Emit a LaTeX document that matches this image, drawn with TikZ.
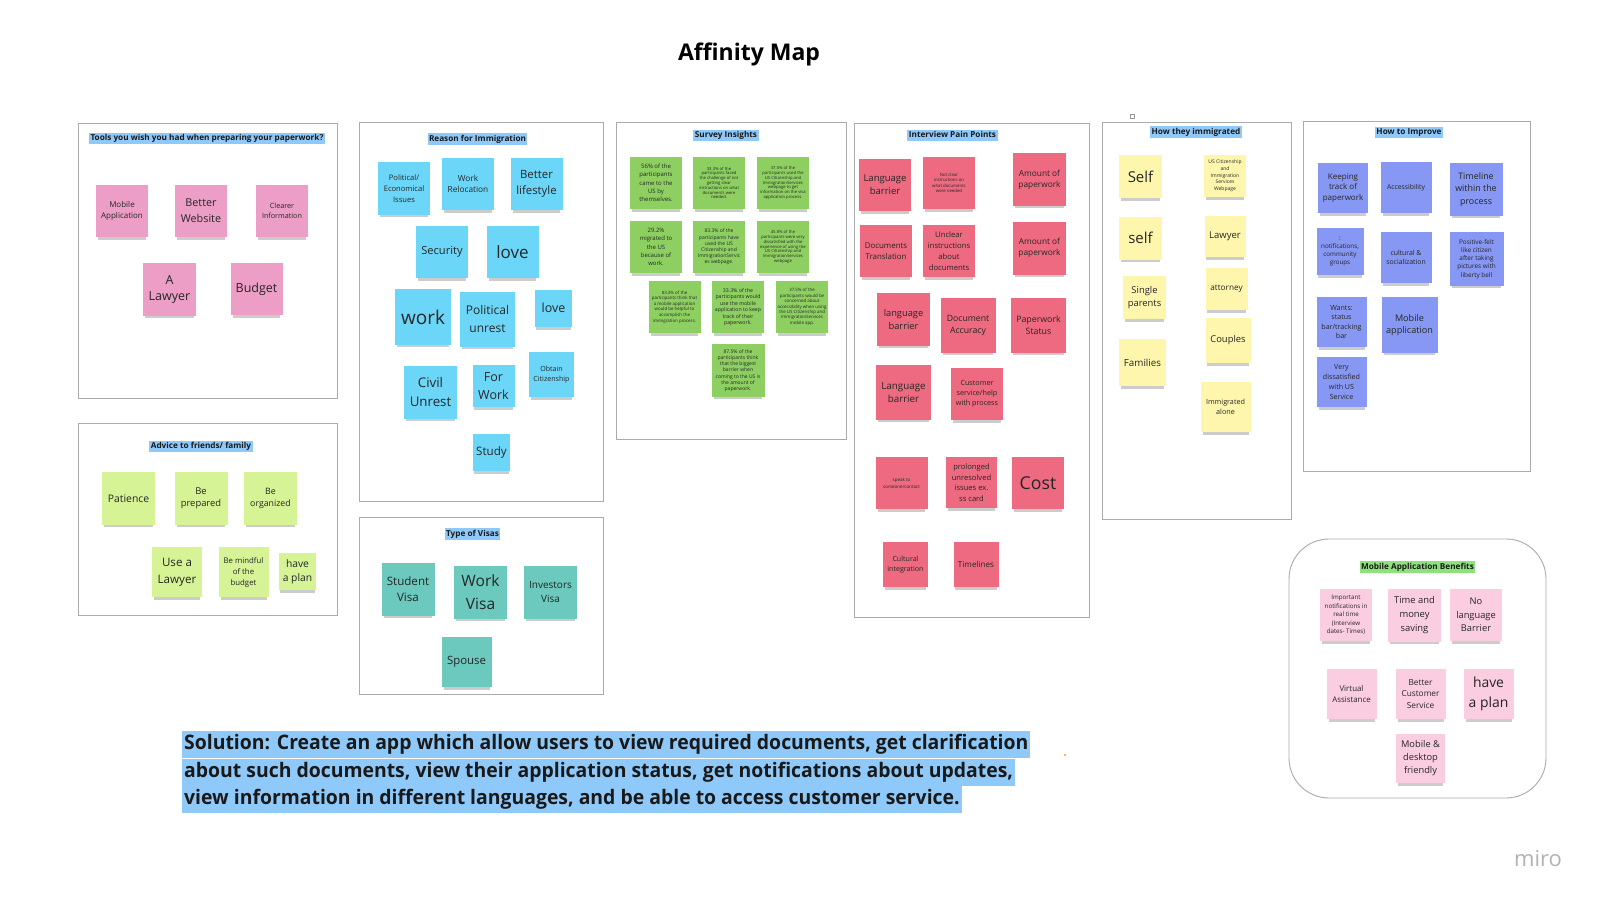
\documentclass[tikz,border=0pt]{standalone}
\usepackage{fontspec}
\setmainfont{Open Sans}
\newfontfamily\solfont[FakeStretch=0.97]{Open Sans}
\usepackage{tikz}
\usetikzlibrary{shadows, positioning}

\definecolor{framegray}{HTML}{ABABAB}
\definecolor{tagblue}{HTML}{8FC9FA}
\definecolor{taggreen}{HTML}{8EE27E}
\definecolor{notepink}{HTML}{EC9EC6}
\definecolor{noteblue}{HTML}{6CD6F8}
\definecolor{notegreen}{HTML}{8DD061}
\definecolor{notered}{HTML}{EE6A80}
\definecolor{noteyellow}{HTML}{FFF6AE}
\definecolor{noteviolet}{HTML}{8797F4}
\definecolor{notelime}{HTML}{D6F395}
\definecolor{noteteal}{HTML}{6CC9BE}
\definecolor{noterose}{HTML}{FBCDE0}

\newcommand{\notesize}[2]{\fontsize{#1}{#2}\selectfont}

\tikzstyle{board} = [draw=framegray, line width=0.9pt]
\tikzstyle{tag} = [fill=tagblue, font=\bfseries\notesize{8.2}{10}, text height=6.3pt, text depth=2pt, inner xsep=1.5pt, inner ysep=1.4pt, text=black!90]
\tikzstyle{sticky} = [rectangle, align=center, inner sep=0.5pt, text=black!85, drop shadow={shadow xshift=0pt, shadow yshift=-5pt, shadow scale=0.92, opacity=0.2, fill=black}]
\tikzstyle{pinknote} = [sticky, fill=notepink]
\tikzstyle{bluenote} = [sticky, fill=noteblue]
\tikzstyle{greennote} = [sticky, fill=notegreen]
\tikzstyle{rednote} = [sticky, fill=notered]
\tikzstyle{yellownote} = [sticky, fill=noteyellow]
\tikzstyle{violetnote} = [sticky, fill=noteviolet]
\tikzstyle{limenote} = [sticky, fill=notelime]
\tikzstyle{tealnote} = [sticky, fill=noteteal]
\tikzstyle{rosenote} = [sticky, fill=noterose]
\tikzstyle{solline} = [fill=tagblue, font=\solfont\bfseries\notesize{20}{24}, text=black!90, text height=15.5pt, text depth=5pt, inner xsep=2pt, inner ysep=3.25pt]

\begin{document}
\begin{tikzpicture}[x=1pt, y=-1pt]
\useasboundingbox (0,0) rectangle (1600,904);
\fill[white] (0,0) rectangle (1600,904);

\node (title) [font=\bfseries\notesize{23}{28}] at (749,54) {Affinity Map};

% boards
\draw[board] (78,123) rectangle (337,398);
\draw[board] (78,423) rectangle (337,615);
\draw[board] (359,122) rectangle (603,501);
\draw[board] (359,517) rectangle (603,694);
\draw[board] (616,122) rectangle (846,439);
\draw[board] (854,123) rectangle (1089,617);
\draw[board] (1102,122) rectangle (1291,519);
\draw[board] (1303,121) rectangle (1530,471);
\draw[board, rounded corners=40pt] (1289,539) rectangle (1546,798);
\draw[draw=black!40, line width=0.5pt] (1130,114) rectangle (1134,118);

% tools
\node (toolsTag) [tag] at (207,138.5) {Tools you wish you had when preparing your paperwork?};
\node (tMobile) [pinknote, minimum size=52, font=\notesize{8}{10.8}] at (122,211) {Mobile\\Application};
\node (tWebsite) [pinknote, minimum size=52, font=\notesize{10.8}{15.7}] at (201,211) {Better\\Website};
\node (tClearer) [pinknote, minimum size=52, font=\notesize{7.2}{9.5}] at (282,211) {Clearer\\Information};
\node (tLawyer) [pinknote, minimum size=53, font=\notesize{12.5}{16.7}] at (169.5,289.5) {A\\Lawyer};
\node (tBudget) [pinknote, minimum size=52, font=\notesize{12.5}{16.7}] at (256.5,289) {Budget};

% advice
\node (adviceTag) [tag] at (201,446.5) {Advice to friends/ family};
\node (aPatience) [limenote, minimum size=53, font=\notesize{10.4}{14}] at (128.5,498.5) {Patience};
\node (aPrepared) [limenote, minimum size=53, font=\notesize{9.4}{12}] at (201,498.5) {Be\\prepared};
\node (aOrganized) [limenote, minimum size=53, font=\notesize{8.8}{12}] at (270.5,498.5) {Be\\organized};
\node (aLawyer) [limenote, minimum size=50, font=\notesize{11.6}{16.7}] at (177,572) {Use a\\Lawyer};
\node (aMindful) [limenote, minimum size=50, font=\notesize{7.8}{11}] at (243.5,572) {Be mindful\\of the\\budget};
\node (aPlan) [limenote, minimum size=37, font=\notesize{10.3}{14.3}] at (297.5,571.5) {have\\a plan};

% reasons
\node (reasonTag) [tag] at (477.5,139) {Reason for Immigration};
\node (rPolitical) [bluenote, minimum size=52, font=\notesize{7.6}{10.7}] at (404,188.5) {Political/\\Economical\\Issues};
\node (rRelocation) [bluenote, minimum size=52, font=\notesize{8.3}{11.3}] at (468,184) {Work\\Relocation};
\node (rLifestyle) [bluenote, minimum size=52, font=\notesize{11.4}{16.3}] at (536.5,184) {Better\\lifestyle};
\node (rSecurity) [bluenote, minimum size=52, font=\notesize{11.1}{14}] at (442,252) {Security};
\node (rLove) [bluenote, minimum size=52, font=\notesize{17}{20}] at (512.5,252) {love};
\node (rWork) [bluenote, minimum size=56, font=\notesize{19}{22}] at (423,317) {work};
\node (rUnrest) [bluenote, minimum size=55, font=\notesize{12}{17.3}] at (487.5,319) {Political\\unrest};
\node (rLove2) [bluenote, minimum size=37, font=\notesize{12.5}{15}] at (553.5,308) {love};
\node (rCivil) [bluenote, minimum size=53, font=\notesize{13.3}{18.7}] at (430.5,392) {Civil\\Unrest};
\node (rForWork) [bluenote, minimum size=42, font=\notesize{12.5}{17.3}] at (493.5,386) {For\\Work};
\node (rCitizen) [bluenote, minimum size=45, font=\notesize{7.1}{9.7}] at (551.5,374.5) {Obtain\\Citizenship};
\node (rStudy) [bluenote, minimum size=37, font=\notesize{11.6}{14}] at (491.5,452.5) {Study};

% visas
\node (visaTag) [tag] at (472.5,534) {Type of Visas};
\node (vStudent) [tealnote, minimum size=53, font=\notesize{11.6}{16}] at (408,589.5) {Student\\Visa};
\node (vWork) [tealnote, minimum size=53, font=\notesize{15.6}{22.7}] at (480.5,592) {Work\\Visa};
\node (vInvestors) [tealnote, minimum size=53, font=\notesize{10}{13.3}] at (550.5,592) {Investors\\Visa};
\node (vSpouse) [tealnote, minimum size=50, font=\notesize{11.4}{14}] at (466.5,662) {Spouse};

% survey
\node (surveyTag) [tag] at (726,135.5) {Survey Insights};
\node (s1) [greennote, minimum size=52, font=\notesize{6}{8.3}] at (656,183) {56\% of the\\participants\\came to the\\US by\\themselves.};
\node (s2) [greennote, minimum size=52, font=\notesize{4.2}{4.8}] at (719,183) {33.3\% of the\\participants faced\\the challenge of not\\getting clear\\instructions on what\\documents were\\needed.};
\node (s3) [greennote, minimum size=52, font=\notesize{4.2}{4.8}] at (783,183) {37.5\% of the\\participants used the\\US Citizenship and\\ImmigrationServices\\webpage to get\\information on the visa\\application process.};
\node (s4) [greennote, minimum size=52, font=\notesize{6}{8.3}] at (656,247) {29.2\%\\migrated to\\the US\\because of\\work.};
\node (s5) [greennote, minimum size=52, font=\notesize{5}{6.2}] at (719,247) {83.3\% of the\\participants have\\used the US\\Citizenship and\\ImmigrationServic\\es webpage.};
\node (s6) [greennote, minimum size=52, font=\notesize{4.2}{4.8}] at (783,247) {45.8\% of the\\participants were very\\dissatisfied with the\\experience of using the\\US Citizenship and\\ImmigrationServices\\webpage};
\node (s7) [greennote, minimum size=52, font=\notesize{4.4}{5.6}] at (674.5,307) {83.3\% of the\\participants think that\\a mobile application\\would be helpful to\\accomplish the\\immigration process.};
\node (s8) [greennote, minimum size=52, font=\notesize{5.2}{6.5}] at (738,307) {33.3\% of the\\participants would\\use the mobile\\application to keep\\track of their\\paperwork.};
\node (s9) [greennote, minimum size=52, font=\notesize{4.4}{5.4}] at (802,307) {37.5\% of the\\participants would be\\concerned about\\accessibility when using\\the US Citizenship and\\ImmigrationServices\\mobile app.};
\node (s10) [greennote, minimum size=53, font=\notesize{5}{6.2}] at (738,370.5) {87.5\% of the\\participants think\\that the biggest\\barrier when\\coming to the US is\\the amount of\\paperwork.};

% pain points
\node (painTag) [tag] at (952.5,135.5) {Interview Pain Points};
\node (pLang1) [rednote, minimum size=52, font=\notesize{9.5}{12.7}] at (885,185) {Language\\barrier};
\node (pNotClear) [rednote, minimum size=52, font=\notesize{4.3}{5.3}] at (949,183) {Not clear\\instructions on\\what documents\\were needed};
\node (pAmount1) [rednote, minimum size=53, font=\notesize{8.3}{11}] at (1039.5,179.5) {Amount of\\paperwork};
\node (pTranslation) [rednote, minimum size=52, font=\notesize{7.9}{11}] at (886,251) {Documents\\Translation};
\node (pUnclear) [rednote, minimum size=52, font=\notesize{7.7}{10.8}] at (949,251) {Unclear\\instructions\\about\\documents};
\node (pAmount2) [rednote, minimum size=53, font=\notesize{8.3}{11}] at (1039.5,248) {Amount of\\paperwork};
\node (pLang2) [rednote, minimum size=53, font=\notesize{9.3}{13.3}] at (903.5,319.5) {language\\barrier};
\node (pAccuracy) [rednote, minimum size=55, font=\notesize{8.7}{11.3}] at (968,325.5) {Document\\Accuracy};
\node (pStatus) [rednote, minimum size=55, font=\notesize{8.8}{12}] at (1038.5,325.5) {Paperwork\\Status};
\node (pLang3) [rednote, minimum size=55, font=\notesize{9.8}{13.3}] at (903.5,392.5) {Language\\barrier};
\node (pService) [rednote, minimum size=52, font=\notesize{7.2}{9.8}] at (977,394) {Customer\\service/help\\with process};
\node (pSpeak) [rednote, minimum size=52, font=\notesize{4.5}{6.7}] at (901.5,483) {speak to\\someone/contact};
\node (pIssues) [rednote, minimum size=51, font=\notesize{7.6}{10.6}] at (971.5,482.5) {prolonged\\unresolved\\issues ex.\\ss card};
\node (pCost) [rednote, minimum size=52, font=\notesize{17.7}{20}] at (1038,483) {Cost};
\node (pCultural) [rednote, minimum size=45, font=\notesize{7.1}{10.3}] at (905.5,564.5) {Cultural\\integration};
\node (pTimelines) [rednote, minimum size=45, font=\notesize{8.1}{10}] at (976,564.5) {Timelines};

% how they immigrated
\node (howTag) [tag] at (1196,132) {How they immigrated};
\node (hSelf1) [yellownote, minimum size=43, font=\notesize{15}{18}] at (1140.5,176.5) {Self};
\node (hWebpage) [yellownote, minimum size=42, font=\notesize{5}{6.7}] at (1225,176) {US Citizenship\\and\\Immigration\\Services\\Webpage};
\node (hSelf2) [yellownote, minimum size=43, font=\notesize{15}{18}] at (1140.5,238) {self};
\node (hLawyer) [yellownote, minimum size=41, font=\notesize{9.5}{12}] at (1225,236.5) {Lawyer};
\node (hSingle) [yellownote, minimum size=43, font=\notesize{9.4}{13}] at (1144.5,297.5) {Single\\parents};
\node (hAttorney) [yellownote, minimum size=42, font=\notesize{8.2}{11}] at (1226.5,289) {attorney};
\node (hFamilies) [yellownote, minimum size=47, font=\notesize{9.8}{12}] at (1142.5,362.5) {Families};
\node (hCouples) [yellownote, minimum size=45, font=\notesize{9.4}{12}] at (1228,340.5) {Couples};
\node (hAlone) [yellownote, minimum size=50, font=\notesize{7.2}{10}] at (1225.5,407) {Immigrated\\alone};

% improve
\node (improveTag) [tag] at (1409,132.5) {How to Improve};
\node (iKeeping) [violetnote, minimum size=50, font=\notesize{8}{10.8}] at (1343,188) {Keeping\\track of\\paperwork};
\node (iAccess) [violetnote, minimum size=51, font=\notesize{6.8}{9}] at (1406,187.5) {Accessibility};
\node (iTimeline) [violetnote, minimum size=53, font=\notesize{8.9}{12.2}] at (1476,189.5) {Timeline\\within the\\process};
\node (iNotif) [violetnote, minimum size=47, font=\notesize{6.3}{8.3}] at (1340,251.5) {:\\notifications,\\community\\groups};
\node (iCultural) [violetnote, minimum size=51, font=\notesize{6.9}{9.3}] at (1406,257.5) {cultural \&\\socialization};
\node (iPositive) [violetnote, minimum size=54, font=\notesize{6.4}{8.3}] at (1476.5,259) {Positive-felt\\like citizen\\after taking\\pictures with\\liberty bell};
\node (iWants) [violetnote, minimum size=50, font=\notesize{7.1}{9.5}] at (1341.5,322) {Wants:\\status\\bar/tracking\\bar};
\node (iMobile) [violetnote, minimum size=56, font=\notesize{9.1}{12.7}] at (1409.5,325) {Mobile\\application};
\node (iVery) [violetnote, minimum size=50, font=\notesize{7.1}{10}] at (1341.5,382) {Very\\dissatisfied\\with US\\Service};

% benefits
\node (benefitTag) [tag, fill=taggreen] at (1417.5,567) {Mobile Application Benefits};
\node (bNotif) [rosenote, minimum size=52, font=\notesize{6.2}{8.5}] at (1346,615) {Important\\notifications in\\real time\\(Interview\\dates- Times)};
\node (bTime) [rosenote, minimum size=53, font=\notesize{9.4}{13.7}] at (1414.5,615) {Time and\\money\\saving};
\node (bLanguage) [rosenote, minimum size=52, font=\notesize{9.3}{13.7}] at (1476,615) {No\\language\\Barrier};
\node (bVirtual) [rosenote, minimum size=50, font=\notesize{7.9}{11}] at (1351.5,694) {Virtual\\Assistance};
\node (bCustomer) [rosenote, minimum size=50, font=\notesize{8.3}{11.7}] at (1420.5,694) {Better\\Customer\\Service};
\node (bPlan) [rosenote, minimum size=50, font=\notesize{13.9}{20}] at (1488.5,694) {have\\a plan};
\node (bMobile) [rosenote, minimum size=49, font=\notesize{9.3}{13}] at (1420.5,758.5) {Mobile \&\\desktop\\friendly};

% solution
\node (sol1) [solline, anchor=north west] at (182,731) {Solution: Create an app which allow users to view required documents, get clarification};
\node (sol2) [solline, below=0pt of sol1.south west, anchor=north west] {about such documents, view their application status, get notifications about updates,};
\node (sol3) [solline, below=0pt of sol2.south west, anchor=north west] {view information in different languages, and be able to access customer service.};
\fill[orange!70!yellow] (1065,755) circle (1.2);

\node (miro) [font=\notesize{22}{26}, text=black!30] at (1538,859) {miro};
\end{tikzpicture}
\end{document}
